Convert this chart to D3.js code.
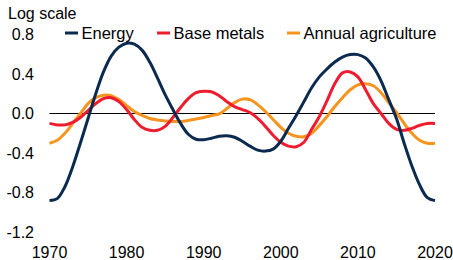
<!DOCTYPE html>
<html>
<head>
<meta charset="utf-8">
<script src="https://cdn.jsdelivr.net/npm/d3@7"></script>
<style>
  body { margin: 0; background: #fff; }
  svg text { font-family: "Liberation Sans", Arial, sans-serif; fill: #000; }
</style>
</head>
<body>
<svg width="453" height="260"></svg>
<script>
var years = d3.range(1970, 2021);

var energy = [-0.88, -0.86, -0.74, -0.54, -0.3, -0.05, 0.2, 0.42, 0.58, 0.67,
  0.71, 0.70, 0.64, 0.52, 0.36, 0.19, 0.04, -0.1, -0.21, -0.26,
  -0.265, -0.25, -0.23, -0.225, -0.24, -0.28, -0.33, -0.37, -0.38, -0.36,
  -0.28, -0.15, -0.02, 0.12, 0.26, 0.37, 0.45, 0.52, 0.57, 0.595,
  0.595, 0.56, 0.47, 0.33, 0.14, -0.05, -0.3, -0.53, -0.72, -0.85, -0.88];

var baseMetals = [-0.1, -0.115, -0.115, -0.09, -0.04, 0.03, 0.1, 0.15, 0.16, 0.12,
  0.04, -0.06, -0.14, -0.17, -0.17, -0.13, -0.04, 0.06, 0.15, 0.21,
  0.225, 0.22, 0.18, 0.12, 0.07, 0.04, 0.01, -0.05, -0.13, -0.22,
  -0.29, -0.33, -0.335, -0.29, -0.16, -0.03, 0.13, 0.3, 0.41, 0.42,
  0.37, 0.24, 0.1, 0.0, -0.1, -0.16, -0.17, -0.15, -0.12, -0.1, -0.1];

var agriculture = [-0.3, -0.27, -0.2, -0.1, 0.0, 0.1, 0.16, 0.185, 0.18, 0.14,
  0.08, 0.02, -0.02, -0.05, -0.065, -0.075, -0.08, -0.08, -0.07, -0.055,
  -0.04, -0.02, -0.005, 0.05, 0.11, 0.145, 0.14, 0.09, 0.02, -0.06,
  -0.14, -0.2, -0.23, -0.235, -0.2, -0.12, -0.03, 0.07, 0.16, 0.24,
  0.29, 0.30, 0.28, 0.21, 0.11, 0.01, -0.1, -0.2, -0.27, -0.3, -0.3];

var seriesNames = ["Energy", "Base metals", "Annual agriculture"];
var yTicks = [0.8, 0.4, 0.0, -0.4, -0.8, -1.2];
var xTicks = [1970, 1980, 1990, 2000, 2010, 2020];

var colors = ["#0b2a4f", "#ee1c2e", "#f7941d"];
var series = [energy, baseMetals, agriculture];

var svg = d3.select("svg");

var x = d3.scaleLinear().domain([1970, 2020]).range([49.5, 435]);
var y = d3.scaleLinear().domain([-1.2, 0.8]).range([232.3, 34.3]);

// y tick labels
svg.append("g")
    .selectAll("text")
    .data(yTicks)
    .enter().append("text")
    .attr("x", 34)
    .attr("y", function(d) { return y(d); })
    .attr("dy", "0.35em")
    .attr("text-anchor", "end")
    .style("font-size", "16px")
    .text(function(d) { return d.toFixed(1); });

// x tick labels
svg.append("g")
    .selectAll("text")
    .data(xTicks)
    .enter().append("text")
    .attr("x", function(d) { return x(d); })
    .attr("y", 257.5)
    .attr("text-anchor", "middle")
    .style("font-size", "16px")
    .text(function(d) { return d; });

svg.append("text")
    .attr("x", 8)
    .attr("y", 18.5)
    .style("font-size", "16px")
    .text("Log scale");

// zero line
svg.append("line")
    .attr("x1", x(1970))
    .attr("x2", x(2020))
    .attr("y1", y(0))
    .attr("y2", y(0))
    .style("stroke", "#000")
    .style("stroke-width", 1);

var line = d3.line()
    .x(function(d, i) { return x(years[i]); })
    .y(function(d) { return y(d); })
    .curve(d3.curveCatmullRom.alpha(0.5));

// draw agriculture first, energy on top
[2, 1, 0].forEach(function(k) {
  svg.append("path")
      .datum(series[k])
      .attr("d", line)
      .style("fill", "none")
      .style("stroke", colors[k])
      .style("stroke-width", 3)
      .style("stroke-linejoin", "round");
});

// legend
var legendX = [65, 157, 287];
var legend = svg.append("g")
    .selectAll("g")
    .data(seriesNames)
    .enter().append("g")
    .attr("transform", function(d, i) { return "translate(" + legendX[i] + ",33)"; });

legend.append("line")
    .attr("x1", 0)
    .attr("x2", 13)
    .style("stroke", function(d, i) { return colors[i]; })
    .style("stroke-width", 3);

legend.append("text")
    .attr("x", 16.5)
    .attr("y", 6)
    .style("font-size", "16.5px")
    .text(function(d) { return d; });
</script>
</body>
</html>
